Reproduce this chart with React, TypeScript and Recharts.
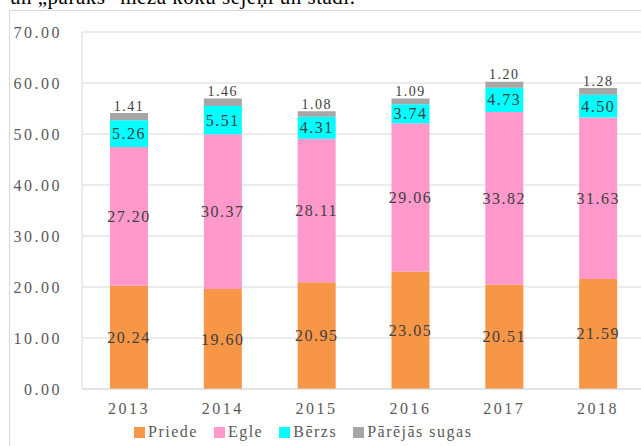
import { Bar, BarChart, CartesianGrid, LabelList, XAxis, YAxis } from "recharts";

const years = ["2013", "2014", "2015", "2016", "2017", "2018"];
const priede = [20.24, 19.6, 20.95, 23.05, 20.51, 21.59];
const egle = [27.2, 30.37, 28.11, 29.06, 33.82, 31.63];
const berzs = [5.26, 5.51, 4.31, 3.74, 4.73, 4.5];
const parejas = [1.41, 1.46, 1.08, 1.09, 1.2, 1.28];
const yTicks = [0, 10, 20, 30, 40, 50, 60, 70];

const series = [
  { key: "priede", name: "Priede", color: "#F79646" },
  { key: "egle", name: "Egle", color: "#FF99CC" },
  { key: "berzs", name: "Bērzs", color: "#00FFFF" },
  { key: "parejas", name: "Pārējās sugas", color: "#A6A6A6" },
];

const data = years.map((year, i) => ({
  year,
  priede: priede[i],
  egle: egle[i],
  berzs: berzs[i],
  parejas: parejas[i],
}));

const FONT = '"Liberation Serif", "Times New Roman", serif';

const insideLabel = (props: any) => {
  const { x, y, width, height, value } = props;
  return (
    <text
      x={x + width / 2}
      y={y + height / 2}
      textAnchor="middle"
      dominantBaseline="central"
      fill="#404040"
      fontSize={16}
      fontFamily={FONT}
      letterSpacing={1.5}
    >
      {Number(value).toFixed(2)}
    </text>
  );
};

const topLabel = (props: any) => {
  const { x, y, width, value } = props;
  return (
    <text
      x={x + width / 2}
      y={y - 7}
      textAnchor="middle"
      dominantBaseline="central"
      fill="#404040"
      fontSize={14}
      fontFamily={FONT}
      letterSpacing={1.5}
    >
      {Number(value).toFixed(2)}
    </text>
  );
};

const App = () => (
  <div
    style={{
      position: "absolute",
      left: 0,
      top: 0,
      width: 641,
      height: 446,
      overflow: "hidden",
      background: "#fff",
    }}
  >
    <div
      style={{
        position: "absolute",
        left: 10,
        top: -13,
        fontFamily: FONT,
        fontSize: 21,
        lineHeight: "21px",
        color: "#000",
        whiteSpace: "nowrap",
        letterSpacing: 0.5,
      }}
    >
      un „paraks" meža koku sējeņi un stādi.
    </div>
    <div
      style={{
        position: "absolute",
        left: 9,
        top: 10,
        width: 700,
        height: 500,
        border: "1px solid #d9d9d9",
      }}
    />
    <div style={{ position: "absolute", left: 0, top: 0 }}>
      <BarChart
        width={660}
        height={446}
        data={data}
        margin={{ top: 32, right: 15, bottom: 27, left: 0 }}
        barSize={38}
      >
        <CartesianGrid vertical={false} stroke="#d9d9d9" />
        <XAxis
          dataKey="year"
          axisLine={{ stroke: "#d9d9d9" }}
          tickLine={false}
          tickSize={0}
          tickMargin={14}
          height={30}
          tick={{ fill: "#595959", fontSize: 16, fontFamily: FONT, letterSpacing: 2.5 }}
        />
        <YAxis
          domain={[0, 70]}
          ticks={yTicks}
          width={82}
          axisLine={{ stroke: "#d9d9d9" }}
          tickLine={false}
          tickSize={0}
          tickMargin={20}
          tickFormatter={(v: number) => v.toFixed(2)}
          tick={{ fill: "#595959", fontSize: 16, fontFamily: FONT, letterSpacing: 2.5 }}
        />
        {series.map((s) => (
          <Bar
            key={s.key}
            dataKey={s.key}
            name={s.name}
            stackId="a"
            fill={s.color}
            isAnimationActive={false}
          >
            <LabelList dataKey={s.key} content={s.key === "parejas" ? topLabel : insideLabel} />
          </Bar>
        ))}
      </BarChart>
    </div>
    <div
      style={{
        position: "absolute",
        left: 134,
        top: 423,
        display: "flex",
        alignItems: "center",
        fontFamily: FONT,
        fontSize: 16,
        color: "#595959",
        letterSpacing: 1.5,
        whiteSpace: "nowrap",
      }}
    >
      {series.map((s) => (
        <div key={s.key} style={{ display: "flex", alignItems: "center", marginRight: 16 }}>
          <span
            style={{ display: "inline-block", width: 11, height: 11, background: s.color, marginRight: 3 }}
          />
          <span>{s.name}</span>
        </div>
      ))}
    </div>
  </div>
);

export default App;
